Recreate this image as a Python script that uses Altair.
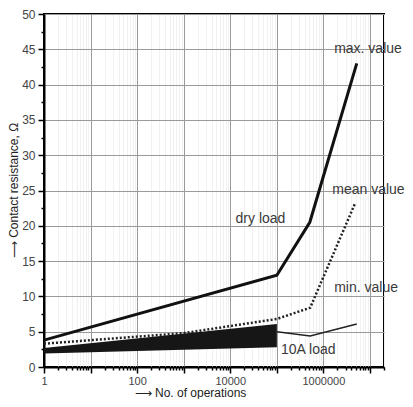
import altair as alt
import pandas as pd

# ---- data ----
max_x = [1, 1e5, 5.1e5, 5.2e6]
max_y = [3.8, 13.0, 20.5, 43.0]

mean_x = [1, 1e3, 1e5, 5.2e5, 4.8e6]
mean_y = [3.3, 4.8, 6.8, 8.4, 23.2]

load10_x = [1, 1e5]
load10_top = [2.7, 6.1]
load10_bottom = [1.9, 2.8]

load10_line_x = [1e5, 5.2e5, 5.2e6]
load10_line_y = [5.0, 4.4, 6.1]

label_text = ["max. value", "mean value", "min. value", "dry load", "10A load"]
label_x = [1.7e6, 1.55e6, 1.7e6, 1.3e4, 1.23e5]
label_y = [45.0, 25.1, 11.2, 21.0, 2.4]

x_labels = [1, 100, 10000, 1000000]
x_ticks = [m * 10 ** e for e in range(8) for m in range(1, 10) if m * 10 ** e <= 2e7]
y_ticks = [i * 2.5 for i in range(21)]

FONT = "Liberation Sans"
is_decade = "abs(log(datum.value)/LN10 - round(log(datum.value)/LN10)) < 0.001"
is_five = "datum.value % 5 == 0"

X = alt.X(
    "x:Q",
    scale=alt.Scale(type="log", domain=[1, 2e7], nice=False),
    axis=alt.Axis(
        values=x_ticks,
        labelExpr="indexof(" + str(x_labels) + ", datum.value) >= 0 ? format(datum.value, 'd') : ''",
        labelOverlap=False,
        labelFlush=False,
        labelFontSize=11,
        labelPadding=2,
        tickSize={"condition": {"test": is_decade, "value": 6}, "value": 3},
        gridColor={"condition": {"test": is_decade, "value": "#9a9a9a"}, "value": "#f1f1f1"},
        title="⟶ No. of operations",
        titleX=146,
        titleY=20,
        titleBaseline="top",
        titleAlign="center",
    ),
)
Y = alt.Y(
    "y:Q",
    scale=alt.Scale(domain=[0, 50], nice=False),
    axis=alt.Axis(
        values=y_ticks,
        labelExpr=is_five + " ? datum.label : ''",
        labelOverlap=False,
        labelFlush=False,
        tickSize={"condition": {"test": is_five, "value": 6}, "value": 3},
        gridOpacity={"condition": {"test": is_five, "value": 1}, "value": 0},
        title="⟶ Contact resistance, Ω",
        titleX=-24,
        titleY=176,
        titleBaseline="bottom",
        titleAlign="center",
        titleAngle=270,
    ),
)

band_df = pd.DataFrame({"x": load10_x, "y": load10_top, "y2": load10_bottom})
max_df = pd.DataFrame({"x": max_x, "y": max_y})
mean_df = pd.DataFrame({"x": mean_x, "y": mean_y})
line10_df = pd.DataFrame({"x": load10_line_x, "y": load10_line_y})
text_df = pd.DataFrame({"x": label_x, "y": label_y, "t": label_text})

band = alt.Chart(band_df).mark_area(color="#161616").encode(x=X, y=Y, y2="y2:Q")
line10 = alt.Chart(line10_df).mark_line(color="#222222", strokeWidth=1.5).encode(x=X, y=Y)
mean = alt.Chart(mean_df).mark_line(color="#222222", strokeWidth=2.5, strokeDash=[2, 2]).encode(x=X, y=Y)
mx = alt.Chart(max_df).mark_line(color="#111111", strokeWidth=3).encode(x=X, y=Y)
texts = alt.Chart(text_df).mark_text(
    align="left", baseline="middle", font=FONT, fontSize=14, color="#3a3a3a"
).encode(x=X, y=Y, text="t:N")

chart = (
    alt.layer(band, line10, mean, mx, texts)
    .properties(
        width=340,
        height=353,
        autosize=alt.AutoSizeParams(type="none"),
        padding={"left": 36, "top": 6, "right": 21, "bottom": 32},
    )
    .configure_view(stroke="black", strokeWidth=2)
    .configure_axis(
        labelFont=FONT,
        titleFont=FONT,
        labelFontSize=12,
        titleFontSize=12,
        labelColor="#444444",
        titleColor="#222222",
        titleFontWeight="normal",
        domainColor="black",
        domainWidth=2,
        tickColor="black",
        tickWidth=1.5,
        gridWidth=1,
        gridColor="#9a9a9a",
        labelPadding=3,
    )
)

chart.save("out.html", embed_options={"renderer": "svg", "actions": False})
